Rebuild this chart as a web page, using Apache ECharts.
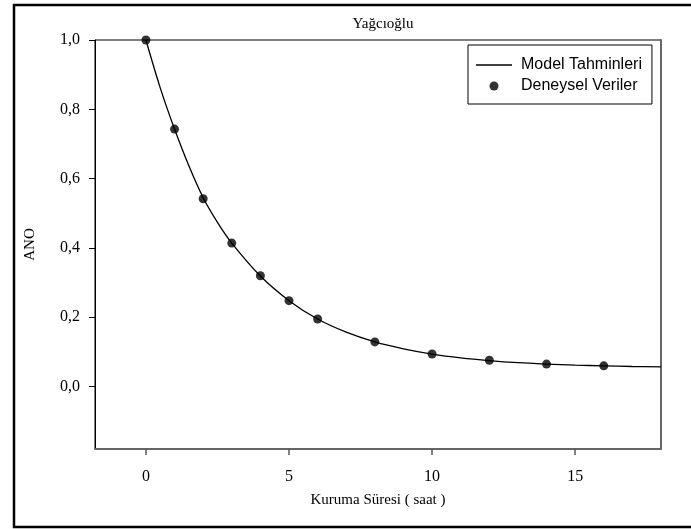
<!DOCTYPE html>
<html>
<head>
<meta charset="utf-8">
<script src="https://cdn.jsdelivr.net/npm/echarts@6/dist/echarts.min.js"></script>
<style>html,body{margin:0;padding:0;background:#fff}#c{width:691px;height:529px}</style>
</head>
<body>
<div id="c"></div>
<script>
// Experimental data (Deneysel Veriler)
var expTimes = [0, 1, 2, 3, 4, 5, 6, 8, 10, 12, 14, 16];
var expValues = [1.0, 0.743, 0.542, 0.414, 0.32, 0.248, 0.195, 0.129, 0.094, 0.076, 0.065, 0.060];
// Model predictions (Model Tahminleri)
var modelTimes = [0, 0.5, 1, 1.5, 2, 2.5, 3, 4, 5, 6, 7, 8, 9, 10, 11, 12, 13, 14, 15, 16, 17, 18];
var modelValues = [1.0, 0.862, 0.743, 0.637, 0.545, 0.474, 0.414, 0.319, 0.248, 0.195, 0.157, 0.129, 0.109, 0.094, 0.083, 0.075, 0.069, 0.065, 0.062, 0.060, 0.058, 0.057];
var xTicks = [0, 5, 10, 15];
var yTicks = [0, 0.2, 0.4, 0.6, 0.8, 1.0];

var chart = echarts.init(document.getElementById('c'), null, {renderer: 'canvas'});
var serif = 'Liberation Serif';
var sans = 'Liberation Sans';
var option = {
  backgroundColor: '#fff',
  animation: false,
  title: {
    text: 'Yağcıoğlu',
    left: 378, top: 12, textAlign: 'center',
    textStyle: {fontFamily: serif, fontSize: 15, fontWeight: 'normal', color: '#000'}
  },
  grid: {left: 95, top: 40, right: 30, bottom: 80, show: true, borderColor: '#000', borderWidth: 1, containLabel: false},
  legend: {
    orient: 'vertical', left: 468, top: 45,
    padding: [12, 10, 10, 8],
    backgroundColor: '#fff',
    borderColor: '#000', borderWidth: 1,
    itemWidth: 36, itemHeight: 9, itemGap: 5,
    textStyle: {fontFamily: sans, fontSize: 16, color: '#000', padding: [0, 0, 0, 4]},
    data: [
      {name: 'Model Tahminleri', icon: 'path://M0,0L36,0L36,1.6L0,1.6Z', itemStyle: {color: '#000'}},
      {name: 'Deneysel Veriler', icon: 'circle', itemStyle: {color: '#000'}}
    ]
  },
  xAxis: {
    type: 'value', min: -1.78, max: 18,
    name: 'Kuruma Süresi ( saat )', nameLocation: 'middle', nameGap: 44,
    nameTextStyle: {fontFamily: serif, fontSize: 15, color: '#000'},
    axisLine: {show: true, onZero: false, lineStyle: {color: '#666', width: 2}},
    axisTick: {show: true, inside: false, length: 6, lineStyle: {color: '#555', width: 1.5}, customValues: xTicks},
    axisLabel: {fontFamily: serif, fontSize: 16, color: '#000', margin: 20, customValues: xTicks},
    splitLine: {show: false}
  },
  yAxis: [{
    type: 'value', min: -0.18, max: 1.0,
    name: 'ANO', nameLocation: 'middle', nameGap: 57, nameRotate: 90,
    nameTextStyle: {fontFamily: serif, fontSize: 15, color: '#000'},
    axisLine: {show: true, onZero: false, lineStyle: {color: '#000', width: 1}},
    axisTick: {show: true, inside: false, length: 6, lineStyle: {color: '#000', width: 1}, customValues: yTicks},
    axisLabel: {fontFamily: serif, fontSize: 16, color: '#000', margin: 15, customValues: yTicks,
      formatter: function (v) { return v.toFixed(1).replace('.', ','); }},
    splitLine: {show: false}
  }, {
    type: 'value', min: -0.18, max: 1.0, position: 'right',
    axisLine: {show: true, onZero: false, lineStyle: {color: '#666', width: 2}},
    axisTick: {show: false}, axisLabel: {show: false}, splitLine: {show: false}
  }],
  graphic: [{
    type: 'rect', shape: {x: 14, y: 5, width: 720, height: 522},
    style: {fill: 'none', stroke: '#000', lineWidth: 2.5}, silent: true, z: 100
  }],
  series: [{
    name: 'Model Tahminleri', type: 'line', smooth: 0.35, symbol: 'none',
    data: modelTimes.map(function (t, i) { return [t, modelValues[i]]; }),
    lineStyle: {color: '#000', width: 1.3}, itemStyle: {color: '#000'}, z: 2
  }, {
    name: 'Deneysel Veriler', type: 'scatter', symbol: 'circle', symbolSize: 9,
    data: expTimes.map(function (t, i) { return [t, expValues[i]]; }),
    itemStyle: {color: '#000'}, z: 3
  }]
};
chart.setOption(option);
</script>
</body>
</html>
